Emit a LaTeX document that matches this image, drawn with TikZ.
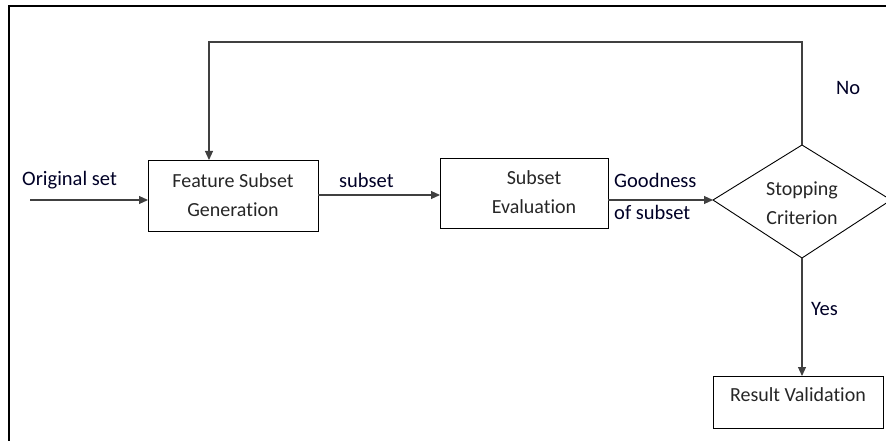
\documentclass[tikz,border=0pt]{standalone}
\usepackage{fontspec}
\setmainfont{Carlito}[Ligatures=NoCommon]
\usetikzlibrary{shapes.geometric,arrows.meta}
\begin{document}
\begin{tikzpicture}[x=1pt,y=-1pt,
  box/.style={draw=black,line width=0.9pt,inner sep=0pt},
  lbl/.style={font=\fontsize{20.5}{24}\selectfont,text=black!85!blue,inner sep=0pt,anchor=west},
  ntext/.style={font=\fontsize{20}{29}\selectfont,text=black!85,align=center},
  conn/.style={draw=black!75,line width=1.1pt,-{Triangle[length=9pt,width=8pt]}}]
\useasboundingbox (0,0) rectangle (886,441);
\begin{scope}
\clip (0,0) rectangle (886,441);
% frame
\draw[line width=2.6pt] (9,441) -- (9,6) -- (887,6);
% shapes
\path[box] (148,160) rectangle (318,231);
\path[box] (440,158) rectangle (608,228);
\path[box] (713,200) -- (802,145) -- (891,200) -- (802,258) -- cycle;
\path[box] (713,376) rectangle (883,428);
% node texts
\node[ntext] (fsgt) at (233,195) {Feature Subset\\Generation};
\node[ntext] (set) at (534,192) {Subset\\Evaluation};
\node[ntext] (sct) at (802,203) {Stopping\\Criterion};
\node[ntext] (rvt) at (798,395) {Result Validation};
% anchor points
\coordinate (fsgW) at (148,200);
\coordinate (fsgE) at (318,195);
\coordinate (fsgN) at (209,160);
\coordinate (seW) at (440,195);
\coordinate (seE) at (608,200);
\coordinate (scW) at (713,200);
\coordinate (scN) at (802,145);
\coordinate (scS) at (802,258);
\coordinate (rvN) at (802,376);
\coordinate (inS) at (30,200);
\coordinate (fbA) at (802,42);
\coordinate (fbB) at (209,42);
% connectors
\draw[conn] (inS) -- (fsgW);
\draw[conn] (fsgE) -- (seW);
\draw[conn] (seE) -- (scW);
\draw[conn] (scS) -- (rvN);
\draw[conn] (scN) -- (fbA) -- (fbB) -- (fsgN);
% labels
\node[lbl] (l1) at (22,180) {Original set};
\node[lbl] (l2) at (339,180) {subset};
\node[lbl] (l3) at (614,180) {Goodness};
\node[lbl] (l4) at (614,212) {of subset};
\node[lbl] (l5) at (836,88) {No};
\node[lbl] (l6) at (811,309) {Yes};
\end{scope}
\end{tikzpicture}
\end{document}
